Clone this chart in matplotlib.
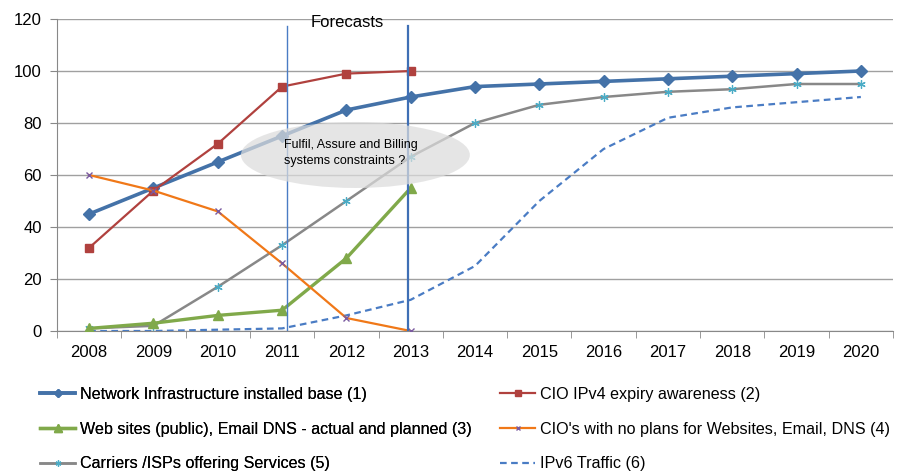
import matplotlib
matplotlib.use("Agg")
import matplotlib.pyplot as plt
from matplotlib.patches import Ellipse
import numpy as np

plt.rcParams['font.family'] = ['Liberation Sans', 'DejaVu Sans']

years = ['2008', '2009', '2010', '2011', '2012', '2013', '2014', '2015', '2016',
         '2017', '2018', '2019', '2020']
net_infra = [45, 55, 65, 75, 85, 90, 94, 95, 96, 97, 98, 99, 100]
cio_awareness = [32, 54, 72, 94, 99, 100]
web_sites = [1, 3, 6, 8, 28, 55]
cio_no_plans = [60, 54, 46, 26, 5, 0]
carriers = [1, 2, 17, 33, 50, 67, 80, 87, 90, 92, 93, 95, 95]
ipv6_traffic = [0, 0, 0.5, 1, 6, 12, 25, 50, 70, 82, 86, 88, 90]

labels = ['Network Infrastructure installed base (1)',
          'CIO IPv4 expiry awareness (2)',
          'Web sites (public), Email DNS - actual and planned (3)',
          "CIO's with no plans for Websites, Email, DNS (4)",
          'Carriers /ISPs offering Services (5)',
          'IPv6 Traffic (6)']

fig = plt.figure(figsize=(9.01, 4.75), dpi=100)
ax = fig.add_axes([57/901, 1-331/475, (893-57)/901, (331-19)/475])

x = np.arange(len(years))
h1, = ax.plot(x, net_infra, color='#4472a8', lw=2.6, marker='D', ms=6, zorder=5)
h2, = ax.plot(x[:6], cio_awareness, color='#b0413e', lw=1.6, marker='s', ms=6, zorder=5)
h3, = ax.plot(x[:6], web_sites, color='#80a94a', lw=2.4, marker='^', ms=7.5, zorder=5)
h4, = ax.plot(x[:6], cio_no_plans, color='#f07818', lw=1.6, marker='x', ms=5,
              mec='#7a5aa0', mew=1, zorder=5)
h5, = ax.plot(x, carriers, color='#888888', lw=1.8, marker=(6, 2, 0), ms=6,
              mec='#4bacc6', mew=0.9, zorder=4)
h6, = ax.plot(x, ipv6_traffic, color='#4a7cc4', lw=1.6, ls=(0, (3, 2)), zorder=4)

# forecast lines
ax.plot([3.07, 3.07], [0, 117.5], color='#4a7cc4', lw=1, zorder=6)
ax.plot([4.96, 4.96], [0, 117.5], color='#3f6fb5', lw=1.6, zorder=6)
ax.text(4.01, 118.6, 'Forecasts', ha='center', va='center', fontsize=12)

ell = Ellipse((4.14, 67.7), 3.56, 25.4, facecolor='#dcdcdc', edgecolor='none',
              alpha=0.72, zorder=7)
ax.add_patch(ell)
ax.text(3.03, 68.3, 'Fulfil, Assure and Billing\nsystems constraints ?',
        ha='left', va='center', fontsize=9, linespacing=1.45, zorder=8)

ax.set_xlim(-0.5, 12.5)
ax.set_ylim(0, 120)
ax.set_yticks(range(0, 121, 20))
ax.set_xticks(x)
ax.set_xticklabels(years)
ax.set_xticks(np.arange(-0.5, 13, 1), minor=True)
ax.tick_params(axis='x', which='major', length=0, pad=10, labelsize=12)
ax.tick_params(axis='x', which='minor', length=5, color='#888888')
ax.tick_params(axis='y', length=5, color='#888888', labelsize=12, pad=6)
ax.yaxis.grid(True, color='#a0a0a0', lw=1)
ax.set_axisbelow(True)
for s in ['top', 'right']:
    ax.spines[s].set_visible(False)
for s in ['left', 'bottom']:
    ax.spines[s].set_color('#888888')

common = dict(loc='upper left', ncol=1, frameon=False, fontsize=11.6, handlelength=2.2,
              handletextpad=0.3, labelspacing=1.22, markerscale=0.7, borderpad=0,
              borderaxespad=0)
leg1 = fig.legend([h1, h3, h5], [labels[0], labels[2], labels[4]],
                  bbox_to_anchor=(40/901, 1-387/475), **common)
fig.add_artist(leg1)
leg2 = fig.legend([h2, h4, h6], [labels[1], labels[3], labels[5]],
                  bbox_to_anchor=(500/901, 1-387/475), **common)

fig.savefig('out.png', dpi=100)
